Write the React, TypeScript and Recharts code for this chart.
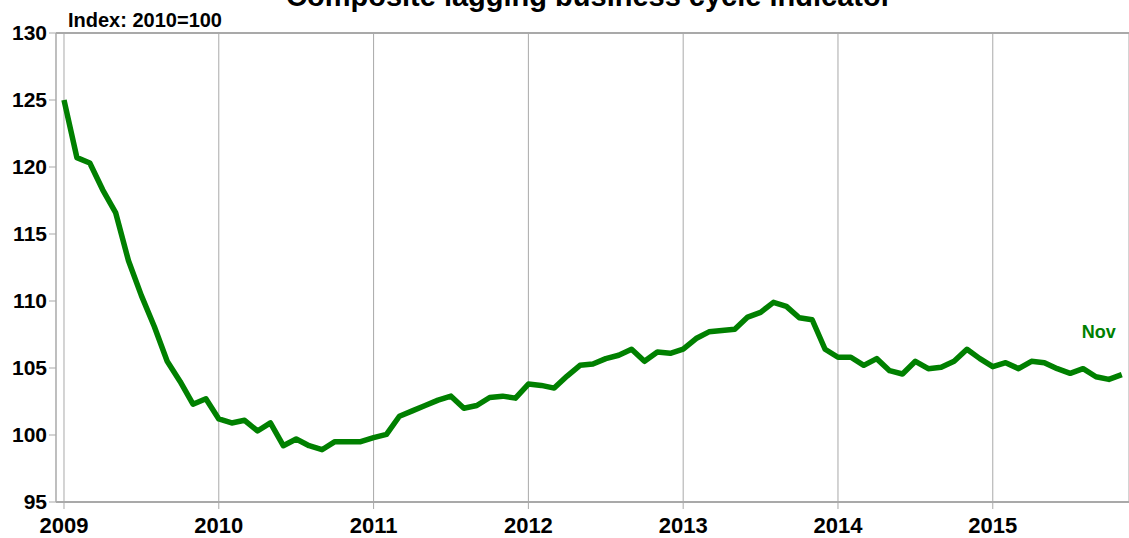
import {
  CartesianGrid,
  LabelList,
  Line,
  LineChart,
  ReferenceLine,
  XAxis,
  YAxis,
} from "recharts";

// Composite lagging business cycle indicator, monthly, Jan 2009 - Nov 2015.
const GREEN = "#008000";
const GRID = "#a9a9a9";
const FONT = "'Liberation Sans', Arial, sans-serif";

const YEARS = ["2009", "2010", "2011", "2012", "2013", "2014", "2015"];
const Y_TICKS = [95, 100, 105, 110, 115, 120, 125, 130];
const LAST_LABEL = "Nov";

// values, one array per year
const v2009 = [125.0, 120.7, 120.3, 118.3, 116.6, 113.0, 110.4, 108.1, 105.5, 104.0, 102.3, 102.7];
const v2010 = [101.2, 100.9, 101.1, 100.3, 100.9, 99.2, 99.7, 99.2, 98.9, 99.5, 99.5, 99.5];
const v2011 = [99.8, 100.05, 101.4, 101.8, 102.2, 102.6, 102.9, 102.0, 102.2, 102.8, 102.9, 102.75];
const v2012 = [103.8, 103.7, 103.5, 104.4, 105.2, 105.3, 105.7, 105.95, 106.4, 105.5, 106.2, 106.1];
const v2013 = [106.4, 107.2, 107.7, 107.8, 107.9, 108.8, 109.15, 109.9, 109.6, 108.75, 108.6, 106.4];
const v2014 = [105.8, 105.8, 105.2, 105.7, 104.8, 104.55, 105.5, 104.95, 105.05, 105.5, 106.4, 105.7];
const v2015 = [105.1, 105.4, 104.95, 105.5, 105.4, 104.95, 104.6, 104.95, 104.35, 104.15, 104.5];

const values = [...v2009, ...v2010, ...v2011, ...v2012, ...v2013, ...v2014, ...v2015];
const data = values.map((v, i) => ({ m: i, v }));
const yearTicks = YEARS.map((_, i) => i * 12);

function NovLabel(props: any) {
  const { x, y, index } = props;
  if (index !== data.length - 1) return null;
  return (
    <text
      x={x - 23}
      y={y - 37}
      textAnchor="middle"
      fill={GREEN}
      fontFamily={FONT}
      fontWeight="bold"
      fontSize={18}
    >
      {LAST_LABEL}
    </text>
  );
}

export default function App() {
  return (
    <div
      style={{
        position: "absolute",
        left: 0,
        top: 0,
        width: 1129,
        height: 538,
        background: "#fff",
        overflow: "hidden",
        fontFamily: FONT,
      }}
    >
      <div
        style={{
          position: "absolute",
          left: 0,
          width: 1178,
          top: -18.5,
          textAlign: "center",
          fontSize: 29,
          lineHeight: "29px",
          fontWeight: "bold",
          whiteSpace: "nowrap",
        }}
      >
        Composite lagging business cycle indicator
      </div>
      <div
        style={{
          position: "absolute",
          left: 68,
          top: 9.8,
          fontSize: 20,
          lineHeight: "20px",
          fontWeight: "bold",
          whiteSpace: "nowrap",
        }}
      >
        Index: 2010=100
      </div>
      <LineChart
        width={1129}
        height={538}
        data={data}
        margin={{ top: 33, right: 0, bottom: 0, left: 0 }}
        style={{ position: "absolute", left: 0, top: 0 }}
      >
        <CartesianGrid horizontal={false} stroke={GRID} strokeWidth={1} />
        <XAxis
          dataKey="m"
          type="number"
          domain={[-0.62, 82.56]}
          ticks={yearTicks}
          tickFormatter={(t) => YEARS[t / 12]}
          allowDataOverflow
          height={36}
          tick={{ fontSize: 22, fontWeight: "bold", fill: "#000", fontFamily: FONT }}
          tickSize={7}
          tickMargin={8}
          tickLine={{ stroke: GRID }}
          axisLine={{ stroke: GRID, strokeWidth: 2 }}
        />
        <YAxis
          domain={[95, 130]}
          ticks={Y_TICKS}
          width={56}
          allowDataOverflow
          tick={{ fontSize: 21, fontWeight: "bold", fill: "#000", fontFamily: FONT }}
          tickSize={7}
          tickMargin={2}
          tickLine={{ stroke: GRID }}
          axisLine={{ stroke: GRID }}
        />
        <ReferenceLine y={130} stroke={GRID} strokeWidth={2} />
        <Line
          dataKey="v"
          type="linear"
          stroke={GREEN}
          strokeWidth={5.5}
          strokeLinejoin="round"
          dot={false}
          activeDot={false}
          isAnimationActive={false}
        >
          <LabelList dataKey="v" content={NovLabel} />
        </Line>
      </LineChart>
    </div>
  );
}
